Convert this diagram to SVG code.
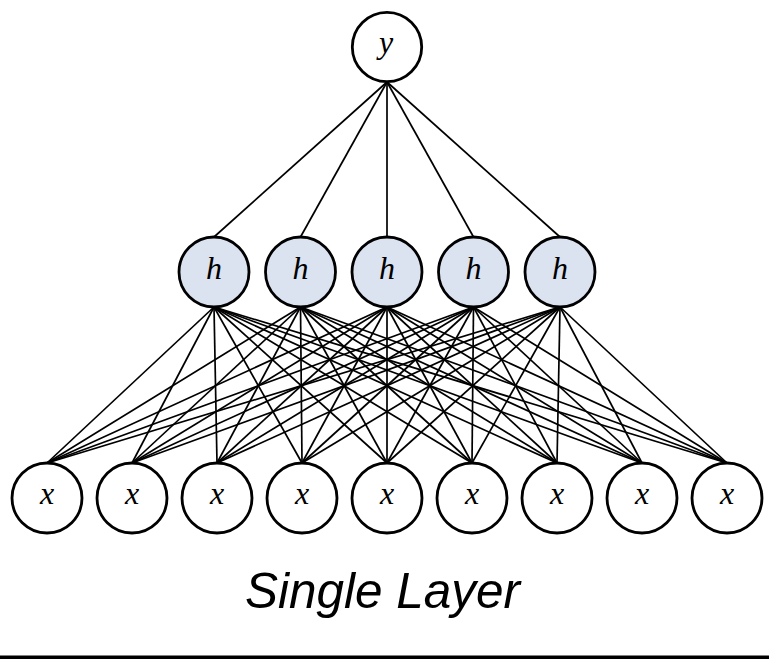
<svg xmlns="http://www.w3.org/2000/svg" width="769" height="659" viewBox="0 0 769 659">
<style>
.n{stroke:#000;stroke-width:2.8;fill:#fff}
.h{fill:#dbe3f0}
.c line{stroke:#000;stroke-width:1.7}
.t{font-family:"Liberation Serif","Times New Roman",serif;font-style:italic;font-size:32px;text-anchor:middle}
.title{font-family:"Liberation Sans",Arial,sans-serif;font-style:italic;font-size:50px}
</style>
<rect width="769" height="659" fill="#fff"/>
<g class="c" id="connectors">
<line x1="214" y1="237" x2="387" y2="82"/>
<line x1="300.5" y1="237" x2="387" y2="82"/>
<line x1="387" y1="237" x2="387" y2="82"/>
<line x1="473.5" y1="237" x2="387" y2="82"/>
<line x1="560" y1="237" x2="387" y2="82"/>
<g id="hx">
<line x1="214" y1="307" x2="47" y2="463"/><line x1="214" y1="307" x2="132" y2="463"/><line x1="214" y1="307" x2="217" y2="463"/><line x1="214" y1="307" x2="302" y2="463"/><line x1="214" y1="307" x2="387" y2="463"/><line x1="214" y1="307" x2="472" y2="463"/><line x1="214" y1="307" x2="557" y2="463"/><line x1="214" y1="307" x2="642" y2="463"/><line x1="214" y1="307" x2="727" y2="463"/>
<line x1="300.5" y1="307" x2="47" y2="463"/><line x1="300.5" y1="307" x2="132" y2="463"/><line x1="300.5" y1="307" x2="217" y2="463"/><line x1="300.5" y1="307" x2="302" y2="463"/><line x1="300.5" y1="307" x2="387" y2="463"/><line x1="300.5" y1="307" x2="472" y2="463"/><line x1="300.5" y1="307" x2="557" y2="463"/><line x1="300.5" y1="307" x2="642" y2="463"/><line x1="300.5" y1="307" x2="727" y2="463"/>
<line x1="387" y1="307" x2="47" y2="463"/><line x1="387" y1="307" x2="132" y2="463"/><line x1="387" y1="307" x2="217" y2="463"/><line x1="387" y1="307" x2="302" y2="463"/><line x1="387" y1="307" x2="387" y2="463"/><line x1="387" y1="307" x2="472" y2="463"/><line x1="387" y1="307" x2="557" y2="463"/><line x1="387" y1="307" x2="642" y2="463"/><line x1="387" y1="307" x2="727" y2="463"/>
<line x1="473.5" y1="307" x2="47" y2="463"/><line x1="473.5" y1="307" x2="132" y2="463"/><line x1="473.5" y1="307" x2="217" y2="463"/><line x1="473.5" y1="307" x2="302" y2="463"/><line x1="473.5" y1="307" x2="387" y2="463"/><line x1="473.5" y1="307" x2="472" y2="463"/><line x1="473.5" y1="307" x2="557" y2="463"/><line x1="473.5" y1="307" x2="642" y2="463"/><line x1="473.5" y1="307" x2="727" y2="463"/>
<line x1="560" y1="307" x2="47" y2="463"/><line x1="560" y1="307" x2="132" y2="463"/><line x1="560" y1="307" x2="217" y2="463"/><line x1="560" y1="307" x2="302" y2="463"/><line x1="560" y1="307" x2="387" y2="463"/><line x1="560" y1="307" x2="472" y2="463"/><line x1="560" y1="307" x2="557" y2="463"/><line x1="560" y1="307" x2="642" y2="463"/><line x1="560" y1="307" x2="727" y2="463"/>
</g>
</g>
<g id="y"><circle class="n" cx="387" cy="47" r="34.7"/><text class="t" x="386" y="53">y</text></g>
<g id="h1"><circle class="n h" cx="214" cy="272" r="35"/><text class="t" x="214" y="279">h</text></g>
<g id="h2"><circle class="n h" cx="300.5" cy="272" r="35"/><text class="t" x="300.5" y="279">h</text></g>
<g id="h3"><circle class="n h" cx="387" cy="272" r="35"/><text class="t" x="387" y="279">h</text></g>
<g id="h4"><circle class="n h" cx="473.5" cy="272" r="35"/><text class="t" x="473.5" y="279">h</text></g>
<g id="h5"><circle class="n h" cx="560" cy="272" r="35"/><text class="t" x="560" y="279">h</text></g>
<g id="x1"><circle class="n" cx="47" cy="498" r="35"/><text class="t" x="47" y="504">x</text></g>
<g id="x2"><circle class="n" cx="132" cy="498" r="35"/><text class="t" x="132" y="504">x</text></g>
<g id="x3"><circle class="n" cx="217" cy="498" r="35"/><text class="t" x="217" y="504">x</text></g>
<g id="x4"><circle class="n" cx="302" cy="498" r="35"/><text class="t" x="302" y="504">x</text></g>
<g id="x5"><circle class="n" cx="387" cy="498" r="35"/><text class="t" x="387" y="504">x</text></g>
<g id="x6"><circle class="n" cx="472" cy="498" r="35"/><text class="t" x="472" y="504">x</text></g>
<g id="x7"><circle class="n" cx="557" cy="498" r="35"/><text class="t" x="557" y="504">x</text></g>
<g id="x8"><circle class="n" cx="642" cy="498" r="35"/><text class="t" x="642" y="504">x</text></g>
<g id="x9"><circle class="n" cx="727" cy="498" r="35"/><text class="t" x="727" y="504">x</text></g>
<text class="title" x="245" y="608" textLength="275" lengthAdjust="spacingAndGlyphs">Single Layer</text>
<rect x="0" y="655.5" width="769" height="3.5" fill="#000"/>
</svg>
